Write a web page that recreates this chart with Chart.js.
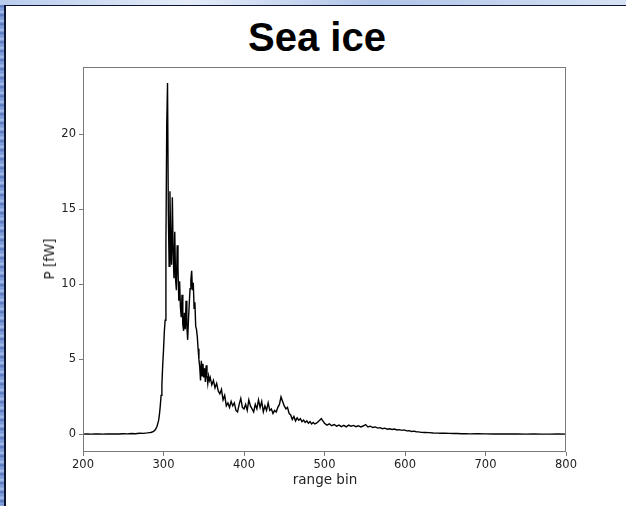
<!DOCTYPE html>
<html>
<head>
<meta charset="utf-8">
<script src="https://cdn.jsdelivr.net/npm/chart.js@4/dist/chart.umd.min.js"></script>
<style>
  html, body { margin: 0; padding: 0; }
  body {
    width: 626px; height: 506px; overflow: hidden; position: relative;
    background: repeating-linear-gradient(180deg, #6f8fd2 0px, #a9c0ec 3px, #5574bd 6px, #8eaae2 9px);
  }
  #topstrip {
    position: absolute; left: 0; top: 0; width: 626px; height: 5px;
    background: linear-gradient(90deg, #b9cced, #e4ecf8 30%, #b0c4e8 60%, #d6e2f4);
  }
  #panel {
    position: absolute; left: 4px; top: 5px; width: 622px; height: 501px;
    background: #fff;
    border-left: 2px solid #0c1430; border-top: 1px solid #0c1430;
    box-sizing: border-box;
  }
  #title {
    position: absolute; left: 0; top: 15px; width: 634px; text-align: center;
    font: bold 40px "Liberation Sans", Arial, sans-serif; color: #000;
  }
  .axis-label {
    position: absolute; font: 13.5px "DejaVu Sans", sans-serif; color: #222;
    white-space: nowrap;
  }
  #xlabel { left: 325px; top: 479px; transform: translate(-50%, -50%); }
  #ylabel { left: 49px; top: 259px; transform: translate(-50%, -50%) rotate(-90deg); }
  canvas { position: absolute; left: 0; top: 0; }
</style>
</head>
<body>
<div id="topstrip"></div>
<div id="panel"></div>
<div id="title">Sea ice</div>
<canvas id="power-chart" width="626" height="506"></canvas>
<div id="xlabel" class="axis-label">range bin</div>
<div id="ylabel" class="axis-label">P [fW]</div>
<script>
// received power against range bin for a sea ice return

const rangeBin = [
  200, 205, 210, 215, 220, 225, 230, 235, 240, 245,
  250, 255, 260, 265, 270, 275, 280, 282, 284, 286,
  288, 290, 292, 294, 295, 296, 297, 298, 299, 300,
  301, 302, 303, 304, 305, 306, 307, 308, 309, 310,
  311, 312, 313, 314, 315, 316, 317, 318, 319, 320,
  321, 322, 323, 324, 325, 326, 327, 328, 329, 330,
  331, 332, 333, 334, 335, 336, 337, 338, 339, 340,
  341, 342, 343, 344, 345, 346, 347, 348, 349, 350,
  351, 352, 353, 354, 355, 356, 357, 358, 360, 362,
  364, 366, 368, 370, 372, 374, 376, 378, 380, 382,
  384, 386, 388, 390, 392, 394, 396, 398, 400, 402,
  404, 406, 408, 410, 412, 414, 416, 418, 420, 422,
  424, 426, 428, 430, 432, 434, 436, 438, 440, 442,
  444, 446, 448, 450, 452, 454, 456, 458, 460, 462,
  464, 466, 468, 470, 472, 474, 476, 478, 480, 482,
  484, 486, 488, 490, 492, 494, 496, 498, 500, 503,
  506, 509, 512, 515, 518, 521, 524, 527, 530, 533,
  536, 539, 542, 545, 548, 551, 554, 557, 560, 563,
  566, 569, 572, 575, 578, 581, 584, 587, 590, 593,
  596, 599, 602, 605, 608, 611, 614, 617, 620, 625,
  630, 635, 640, 645, 650, 655, 660, 665, 670, 675,
  680, 690, 700, 710, 720, 730, 740, 750, 760, 770,
  780, 790, 800
];

const power = [
  0.02, 0.03, 0.02, 0.03, 0.03, 0.02, 0.04, 0.03, 0.04, 0.03,
  0.05, 0.04, 0.06, 0.05, 0.08, 0.07, 0.10, 0.12, 0.13, 0.16,
  0.22, 0.32, 0.55, 0.95, 1.35, 1.9, 2.6, 3.3, 4.6, 5.6,
  6.8, 7.6, 12.5, 20.5, 23.4, 14.8, 11.2, 16.2, 12.6, 11.3,
  15.8, 12.1, 10.4, 13.5, 10.3, 9.6, 12.6, 11.1, 8.9, 10.2,
  8.5, 7.8, 9.3, 7.3, 6.9, 8.1, 7.0, 8.9, 7.2, 6.3,
  7.6, 8.7, 9.7, 10.3, 10.9, 9.6, 10.1, 8.4, 8.8, 7.2,
  7.0, 6.5, 5.7, 5.0, 4.5, 3.6, 4.9, 3.9, 4.7, 3.8,
  4.4, 3.5, 4.6, 3.9, 3.4, 3.9, 3.6, 3.8, 3.3, 3.6,
  3.1, 3.4, 2.9, 2.7, 3.0, 2.3, 2.6, 1.9, 2.1, 1.8,
  2.2, 1.9, 2.1, 1.6, 1.5, 2.0, 2.4, 1.8, 1.7, 2.0,
  1.6, 2.3, 1.9, 1.7, 1.5, 2.0, 1.7, 2.3, 1.8, 2.2,
  1.5, 1.9, 1.6, 2.1, 1.6, 1.7, 1.4, 1.6, 1.5, 1.8,
  2.0, 2.5, 2.2, 1.9, 1.7, 1.8, 1.4, 1.3, 1.0, 1.2,
  0.9, 1.1, 0.95, 1.05, 0.85, 0.95, 0.8, 0.9, 0.75, 0.85,
  0.7, 0.8, 0.7, 0.75, 0.85, 0.95, 1.05, 0.9, 0.75, 0.62,
  0.7, 0.58, 0.66, 0.55, 0.62, 0.52, 0.6, 0.5, 0.62, 0.55,
  0.6, 0.52, 0.58, 0.5, 0.56, 0.66, 0.5, 0.55, 0.46, 0.5,
  0.42, 0.45, 0.38, 0.42, 0.35, 0.38, 0.33, 0.36, 0.3, 0.32,
  0.27, 0.3, 0.24, 0.25, 0.2, 0.22, 0.18, 0.17, 0.14, 0.13,
  0.12, 0.1, 0.09, 0.08, 0.08, 0.07, 0.06, 0.06, 0.05, 0.05,
  0.04, 0.05, 0.04, 0.03, 0.04, 0.03, 0.03, 0.02, 0.03, 0.02,
  0.02, 0.03, 0.02
];

const xTicks = [200, 300, 400, 500, 600, 700, 800];
const yTicks = [0, 5, 10, 15, 20];

const spineColor = '#7a7a7a';
const tickFont = { family: 'DejaVu Sans', size: 11.5 };

// matplotlib-style box round the plot area
const frameBox = {
  id: 'frameBox',
  afterDraw(chart) {
    const { ctx, chartArea: a } = chart;
    ctx.save();
    ctx.strokeStyle = spineColor;
    ctx.lineWidth = 1;
    ctx.strokeRect(a.left + 0.5, a.top + 0.5, a.right - a.left - 1, a.bottom - a.top - 1);
    ctx.restore();
  }
};

const points = rangeBin.map((b, i) => ({ x: b, y: power[i] }));

new Chart(document.getElementById('power-chart'), {
  type: 'line',
  data: {
    datasets: [{
      data: points,
      borderColor: '#000',
      borderWidth: 1.4,
      pointRadius: 0,
      tension: 0,
      fill: false
    }]
  },
  options: {
    responsive: false,
    animation: false,
    devicePixelRatio: 1,
    layout: { padding: { left: 0, top: 67, right: 60, bottom: 0 } },
    plugins: { legend: { display: false }, tooltip: { enabled: false } },
    scales: {
      x: {
        type: 'linear',
        min: 200,
        max: 800,
        afterFit: s => { s.height = 54; },
        afterBuildTicks: s => { s.ticks = xTicks.map(v => ({ value: v })); },
        border: { display: false },
        grid: { drawOnChartArea: false, drawTicks: true, tickLength: 4, color: spineColor },
        ticks: { color: '#222', font: tickFont, padding: 2, maxRotation: 0 }
      },
      y: {
        type: 'linear',
        min: -1.17,
        max: 24.47,
        afterFit: s => { s.width = 83; },
        afterBuildTicks: s => { s.ticks = yTicks.map(v => ({ value: v })); },
        border: { display: false },
        grid: { drawOnChartArea: false, drawTicks: true, tickLength: 4, color: spineColor },
        ticks: { color: '#222', font: tickFont, padding: 3 }
      }
    }
  },
  plugins: [frameBox]
});
</script>
</body>
</html>
